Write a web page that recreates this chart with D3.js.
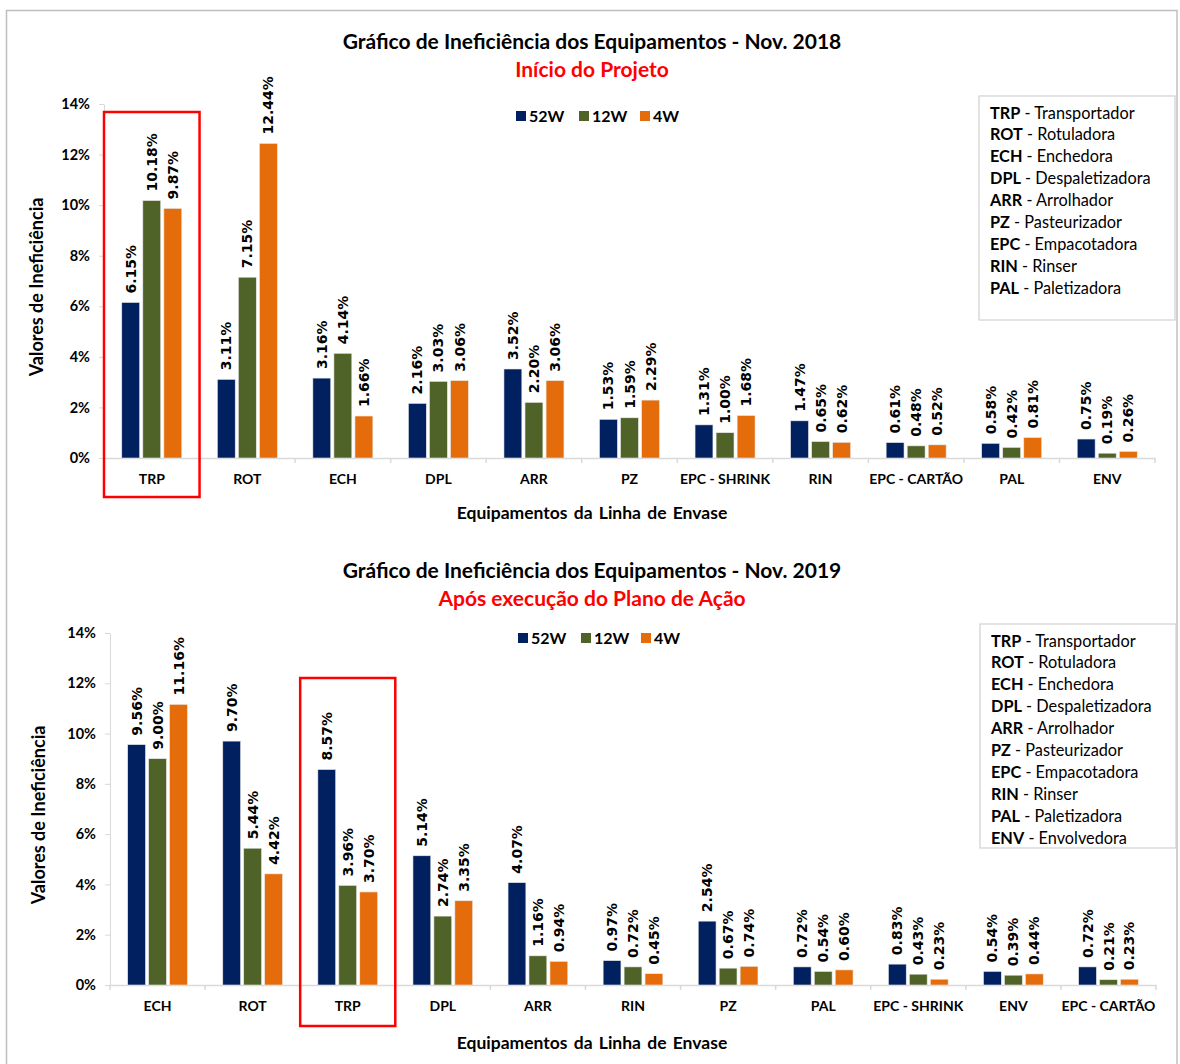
<!DOCTYPE html>
<html>
<head>
<meta charset="utf-8">
<script src="https://cdn.jsdelivr.net/npm/d3@7"></script>
<style>
  html, body { margin: 0; padding: 0; background: #fff; }
  svg { display: block; }
</style>
</head>
<body>
<svg id="chart" width="1180" height="1064"></svg>
<script>
// ---------------- DATA ----------------
const seriesNames = ["52W", "12W", "4W"];
const seriesColors = ["#002060", "#4F6228", "#E46C0A"];
const yTicks = [0, 0.02, 0.04, 0.06, 0.08, 0.10, 0.12, 0.14];

// Chart 1 - Nov. 2018
const categories2018 = ["TRP", "ROT", "ECH", "DPL", "ARR", "PZ", "EPC - SHRINK", "RIN", "EPC - CARTÃO", "PAL", "ENV"];
const w52_2018 = [6.15, 3.11, 3.16, 2.16, 3.52, 1.53, 1.31, 1.47, 0.61, 0.58, 0.75];
const w12_2018 = [10.18, 7.15, 4.14, 3.03, 2.20, 1.59, 1.00, 0.65, 0.48, 0.42, 0.19];
const w4_2018  = [9.87, 12.44, 1.66, 3.06, 3.06, 2.29, 1.68, 0.62, 0.52, 0.81, 0.26];
const glossary2018 = [
  ["TRP", "Transportador"], ["ROT", "Rotuladora"], ["ECH", "Enchedora"],
  ["DPL", "Despaletizadora"], ["ARR", "Arrolhador"], ["PZ", "Pasteurizador"],
  ["EPC", "Empacotadora"], ["RIN", "Rinser"], ["PAL", "Paletizadora"]
];

// Chart 2 - Nov. 2019
const categories2019 = ["ECH", "ROT", "TRP", "DPL", "ARR", "RIN", "PZ", "PAL", "EPC - SHRINK", "ENV", "EPC - CARTÃO"];
const w52_2019 = [9.56, 9.70, 8.57, 5.14, 4.07, 0.97, 2.54, 0.72, 0.83, 0.54, 0.72];
const w12_2019 = [9.00, 5.44, 3.96, 2.74, 1.16, 0.72, 0.67, 0.54, 0.43, 0.39, 0.21];
const w4_2019  = [11.16, 4.42, 3.70, 3.35, 0.94, 0.45, 0.74, 0.60, 0.23, 0.44, 0.23];
const glossary2019 = [
  ["TRP", "Transportador"], ["ROT", "Rotuladora"], ["ECH", "Enchedora"],
  ["DPL", "Despaletizadora"], ["ARR", "Arrolhador"], ["PZ", "Pasteurizador"],
  ["EPC", "Empacotadora"], ["RIN", "Rinser"], ["PAL", "Paletizadora"], ["ENV", "Envolvedora"]
];

// ---------------- DRAW ----------------
const FONT = "Lato, 'Open Sans', sans-serif";
const LABEL_FONT = "'DejaVu Sans', sans-serif";
const svg = d3.select("#chart");

// outer frame
svg.append("rect").attr("x", 6.5).attr("y", 10.5).attr("width", 1170.5).attr("height", 1070)
  .attr("fill", "none").attr("stroke", "#bfbfbf").attr("stroke-width", 1.5);

function drawChart(cfg) {
  const g = svg.append("g");
  const rows = cfg.categories.map((c, i) => ({ cat: c, vals: cfg.series.map(s => s[i] / 100) }));

  const x0 = d3.scaleBand().domain(cfg.categories).range([cfg.left, cfg.right]).paddingInner(0.372).paddingOuter(0.186);
  const x1 = d3.scaleBand().domain(seriesNames).range([0, x0.bandwidth()]).paddingInner(0.15);
  const y = d3.scaleLinear().domain([0, 0.14]).range([cfg.y0, cfg.yTop]);

  // titles
  g.append("text").attr("x", cfg.cx).attr("y", cfg.titleY).attr("text-anchor", "middle")
    .attr("font-family", FONT).attr("font-weight", "bold").attr("font-size", 21).attr("fill", "#000")
    .text(cfg.title);
  g.append("text").attr("x", cfg.cx).attr("y", cfg.subY).attr("text-anchor", "middle")
    .attr("font-family", FONT).attr("font-weight", "bold").attr("font-size", 21).attr("fill", "#FF0000")
    .text(cfg.subtitle);

  // y axis
  const yAxis = g.append("g").attr("transform", `translate(${cfg.left},0)`)
    .call(d3.axisLeft(y).tickValues(yTicks).tickFormat(d3.format(".0%")).tickSize(5).tickPadding(9).tickSizeOuter(0));
  yAxis.select(".domain").attr("stroke", "#d9d9d9");
  yAxis.selectAll(".tick line").attr("stroke", "#d9d9d9");
  yAxis.selectAll(".tick text").attr("font-family", FONT).attr("font-weight", "bold").attr("font-size", 14.5).attr("fill", "#000");

  // x axis
  const xAxis = g.append("g").attr("transform", `translate(0,${cfg.y0})`)
    .call(d3.axisBottom(x0).tickSize(0).tickPadding(16).tickSizeOuter(0));
  xAxis.select(".domain").attr("stroke", "#d9d9d9").attr("stroke-width", 1.5);
  xAxis.selectAll(".tick text").attr("font-family", FONT).attr("font-weight", "bold").attr("font-size", 14).attr("fill", "#000");
  // boundary ticks
  const bounds = cfg.categories.map(c => x0(c) - x0.step() * x0.paddingInner() / 2).concat([cfg.right]);
  xAxis.selectAll(".btick").data(bounds).join("line").attr("class", "btick")
    .attr("x1", d => d).attr("x2", d => d).attr("y1", 0).attr("y2", 5).attr("stroke", "#d9d9d9").attr("stroke-width", 1.5);

  // axis titles
  g.append("text").attr("transform", `translate(${cfg.yTitleX},${(cfg.y0 + cfg.yTop) / 2 + 6}) rotate(-90)`)
    .attr("text-anchor", "middle").attr("font-family", FONT).attr("font-weight", "bold").attr("font-size", 18)
    .text("Valores de Ineficiência");
  g.append("text").attr("x", cfg.cx).attr("y", cfg.xTitleY).attr("text-anchor", "middle")
    .attr("font-family", FONT).attr("font-weight", "bold").attr("font-size", 17.5).attr("word-spacing", 2)
    .text("Equipamentos da Linha de Envase");

  // bars
  const groups = g.selectAll(".grp").data(rows).join("g").attr("class", "grp")
    .attr("transform", d => `translate(${x0(d.cat)},0)`);
  groups.selectAll("rect").data(d => d.vals.map((v, i) => ({ v, i }))).join("rect")
    .attr("x", d => x1(seriesNames[d.i])).attr("width", x1.bandwidth())
    .attr("y", d => y(d.v)).attr("height", d => y(0) - y(d.v))
    .attr("fill", d => seriesColors[d.i]).attr("stroke", "#e8e8e8").attr("stroke-width", 0.6);
  groups.selectAll("text").data(d => d.vals.map((v, i) => ({ v, i }))).join("text")
    .attr("transform", d => `translate(${x1(seriesNames[d.i]) + x1.bandwidth() / 2},${y(d.v) - 9}) rotate(-90)`)
    .attr("dy", "0.36em").attr("text-anchor", "start")
    .attr("font-family", LABEL_FONT).attr("font-weight", "bold").attr("font-size", 14).attr("fill", "#000")
    .text(d => d3.format(".2f")(d.v * 100) + "%");

  // series legend
  const lg = g.append("g");
  seriesNames.forEach((s, i) => {
    lg.append("rect").attr("x", cfg.legendX[i]).attr("y", cfg.legendY - 5).attr("width", 10).attr("height", 10).attr("fill", seriesColors[i]);
    lg.append("text").attr("x", cfg.legendX[i] + 13).attr("y", cfg.legendY + 6)
      .attr("font-family", FONT).attr("font-weight", "bold").attr("font-size", 16).text(s);
  });

  // glossary box
  g.append("rect").attr("x", cfg.box[0]).attr("y", cfg.box[1]).attr("width", cfg.box[2]).attr("height", cfg.box[3])
    .attr("fill", "#fff").attr("stroke", "#d0d0d0").attr("stroke-width", 1.2);
  cfg.glossary.forEach((d, i) => {
    const t = g.append("text").attr("x", cfg.box[0] + 11).attr("y", cfg.box[1] + 22.5 + i * 21.9)
      .attr("font-family", FONT).attr("font-size", 16.3).attr("fill", "#000");
    t.append("tspan").attr("font-weight", "bold").text(d[0]);
    t.append("tspan").text(" - " + d[1]);
  });

  // red highlight box
  const hc = x0(cfg.highlight) + x0.bandwidth() / 2;
  g.append("rect").attr("x", hc - x0.step() / 2).attr("y", cfg.hlTop)
    .attr("width", x0.step()).attr("height", cfg.hlBottom - cfg.hlTop)
    .attr("fill", "none").attr("stroke", "#FF0000").attr("stroke-width", 2.5);
}

drawChart({
  categories: categories2018, series: [w52_2018, w12_2018, w4_2018], glossary: glossary2018,
  title: "Gráfico de Ineficiência dos Equipamentos - Nov. 2018", subtitle: "Início do Projeto",
  left: 104, right: 1155, y0: 458, yTop: 104, cx: 592, titleY: 49, subY: 77,
  yTitleX: 43, xTitleY: 519, legendX: [516, 579, 640], legendY: 116,
  box: [979, 96, 196, 224], highlight: "TRP", hlTop: 112, hlBottom: 497
});

drawChart({
  categories: categories2019, series: [w52_2019, w12_2019, w4_2019], glossary: glossary2019,
  title: "Gráfico de Ineficiência dos Equipamentos - Nov. 2019", subtitle: "Após execução do Plano de Ação",
  left: 110, right: 1156, y0: 985, yTop: 633, cx: 592, titleY: 578, subY: 606,
  yTitleX: 45, xTitleY: 1049, legendX: [518, 581, 641], legendY: 638,
  box: [980, 624, 196, 224], highlight: "TRP", hlTop: 678, hlBottom: 1026
});
</script>
</body>
</html>
